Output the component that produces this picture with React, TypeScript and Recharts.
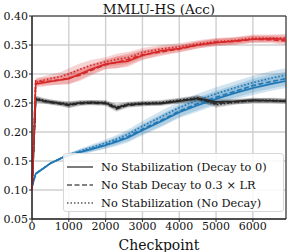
import React from 'react';
import { ComposedChart, Line, Area, XAxis, YAxis, CartesianGrid, ReferenceArea, Label } from 'recharts';

const checkpoints = [0, 100, 300, 500, 800, 1000, 1300, 1600, 2000, 2300, 2600, 3000, 3500, 4000, 4500, 5000, 5500, 6000, 6500, 6900];

const redSolid = [0.1, 0.283, 0.285, 0.287, 0.29, 0.292, 0.3, 0.308, 0.317, 0.32, 0.322, 0.332, 0.34, 0.344, 0.35, 0.354, 0.357, 0.36, 0.361, 0.36];
const redDashed = [0.1, 0.288, 0.287, 0.288, 0.29, 0.293, 0.298, 0.306, 0.316, 0.32, 0.325, 0.333, 0.338, 0.343, 0.35, 0.355, 0.356, 0.36, 0.359, 0.357];
const redDotted = [0.1, 0.285, 0.289, 0.292, 0.296, 0.3, 0.308, 0.315, 0.321, 0.325, 0.328, 0.337, 0.343, 0.347, 0.352, 0.356, 0.358, 0.362, 0.362, 0.362];
const redBand = [0, 0.006, 0.007, 0.007, 0.008, 0.01, 0.01, 0.009, 0.008, 0.01, 0.01, 0.008, 0.007, 0.006, 0.006, 0.006, 0.006, 0.006, 0.006, 0.007];

const blackSolid = [0.1, 0.257, 0.254, 0.252, 0.249, 0.247, 0.25, 0.251, 0.25, 0.242, 0.247, 0.249, 0.249, 0.253, 0.258, 0.252, 0.253, 0.255, 0.254, 0.253];
const blackDashed = [0.1, 0.256, 0.253, 0.251, 0.248, 0.246, 0.249, 0.25, 0.249, 0.24, 0.246, 0.248, 0.25, 0.254, 0.257, 0.249, 0.252, 0.254, 0.254, 0.253];
const blackDotted = [0.1, 0.258, 0.255, 0.252, 0.25, 0.248, 0.251, 0.251, 0.251, 0.243, 0.248, 0.25, 0.251, 0.255, 0.259, 0.247, 0.251, 0.254, 0.255, 0.254];
const blackBand = [0, 0.005, 0.004, 0.004, 0.004, 0.005, 0.004, 0.004, 0.004, 0.005, 0.004, 0.004, 0.004, 0.004, 0.005, 0.005, 0.004, 0.004, 0.004, 0.004];

const blueSolid = [0.105, 0.128, 0.137, 0.146, 0.155, 0.16, 0.165, 0.17, 0.177, 0.183, 0.19, 0.203, 0.218, 0.234, 0.246, 0.257, 0.267, 0.276, 0.283, 0.288];
const blueDashed = [0.105, 0.128, 0.137, 0.146, 0.155, 0.16, 0.166, 0.171, 0.178, 0.185, 0.192, 0.205, 0.22, 0.236, 0.249, 0.26, 0.27, 0.28, 0.287, 0.292];
const blueDotted = [0.105, 0.128, 0.137, 0.146, 0.155, 0.161, 0.167, 0.173, 0.181, 0.188, 0.196, 0.21, 0.226, 0.242, 0.255, 0.266, 0.276, 0.285, 0.293, 0.298];
const blueBand = [0, 0.002, 0.002, 0.002, 0.002, 0.003, 0.004, 0.005, 0.006, 0.007, 0.008, 0.009, 0.01, 0.01, 0.011, 0.011, 0.011, 0.012, 0.012, 0.012];

const xTicks = [0, 1000, 2000, 3000, 4000, 5000, 6000];
const yTicks = [0.05, 0.1, 0.15, 0.2, 0.25, 0.3, 0.35, 0.4];
const legendLabels = ['No Stabilization (Decay to 0)', 'No Stab Decay to 0.3 \u00d7 LR', 'No Stabilization (No Decay)'];

const FONT = '"DejaVu Serif", serif';
const RED = '#d62728';
const BLUE = '#1f77b4';
const BLACK = '#262626';
const dashes = [undefined, '5 2.5', '1.5 2'];

const series = [
  { key: 'blue', color: BLUE, lines: [blueSolid, blueDashed, blueDotted], band: blueBand },
  { key: 'black', color: BLACK, lines: [blackSolid, blackDashed, blackDotted], band: blackBand },
  { key: 'red', color: RED, lines: [redSolid, redDashed, redDotted], band: redBand },
];

const data = checkpoints.map((c, i) => {
  const row: any = { step: c };
  series.forEach((s) => {
    s.lines.forEach((arr, j) => {
      row[`${s.key}${j}`] = arr[i];
      row[`${s.key}${j}band`] = [arr[i] - s.band[i], arr[i] + s.band[i]];
    });
  });
  return row;
});

const Legend = () => (
  <div
    style={{
      position: 'absolute', left: 63, top: 153, width: 221, height: 59, boxSizing: 'border-box',
      background: 'rgba(255,255,255,0.85)', border: '1px solid #d8d8d8', borderRadius: 3,
      fontFamily: FONT, fontSize: 11.3, color: '#111',
    }}
  >
    {legendLabels.map((label, i) => (
      <div key={label} style={{ position: 'absolute', left: 0, top: 4 + i * 18, height: 18, display: 'flex', alignItems: 'center', whiteSpace: 'nowrap' }}>
        <svg width={34} height={10} style={{ marginLeft: 3 }}>
          <line x1={0} y1={5} x2={26} y2={5} stroke="#5a5a5a" strokeWidth={1.6} strokeDasharray={dashes[i]} />
        </svg>
        <span>{label}</span>
      </div>
    ))}
  </div>
);

export default function App() {
  return (
    <div style={{ position: 'absolute', left: 0, top: 0, width: 289, height: 252, background: '#fff' }}>
      <div style={{ position: 'absolute', left: 32, width: 254, top: 1, textAlign: 'center', fontFamily: FONT, fontSize: 13.5, color: '#111' }}>
        MMLU-HS (Acc)
      </div>
      <ComposedChart width={289} height={252} data={data} margin={{ top: 16, right: 3, left: 0, bottom: 0 }}>
        <CartesianGrid stroke="#cfcfcf" strokeWidth={1.4} />
        <XAxis
          dataKey="step" type="number" domain={[0, 6900]} ticks={xTicks} height={33}
          tick={{ fontFamily: FONT, fontSize: 11, fill: '#111' }} tickSize={3} tickMargin={0}
          stroke="#222" interval={0}
        >
          <Label value="Checkpoint" position="insideBottom" offset={2} style={{ fontFamily: FONT, fontSize: 14, fill: '#111' }} />
        </XAxis>
        <YAxis
          type="number" domain={[0.05, 0.4]} ticks={yTicks} width={32} allowDataOverflow
          tickFormatter={(v: number) => v.toFixed(2)}
          tick={{ fontFamily: FONT, fontSize: 11, fill: '#111' }} tickSize={3} tickMargin={1}
          stroke="#222" interval={0}
        />
        {series.map((s) =>
          s.lines.map((_, j) => (
            <Area
              key={`${s.key}${j}band`} dataKey={`${s.key}${j}band`} type="linear"
              stroke="none" fill={s.color} fillOpacity={0.2} isAnimationActive={false} activeDot={false}
            />
          ))
        )}
        {series.map((s) =>
          s.lines.map((_, j) => (
            <Line
              key={`${s.key}${j}`} dataKey={`${s.key}${j}`} type="linear" stroke={s.color}
              strokeWidth={1.6} strokeDasharray={dashes[j]} dot={false} activeDot={false} isAnimationActive={false}
            />
          ))
        )}
        <ReferenceArea x1={0} x2={6900} y1={0.05} y2={0.4} fill="none" stroke="#222" strokeWidth={1} ifOverflow="visible" />
      </ComposedChart>
      <Legend />
    </div>
  );
}
